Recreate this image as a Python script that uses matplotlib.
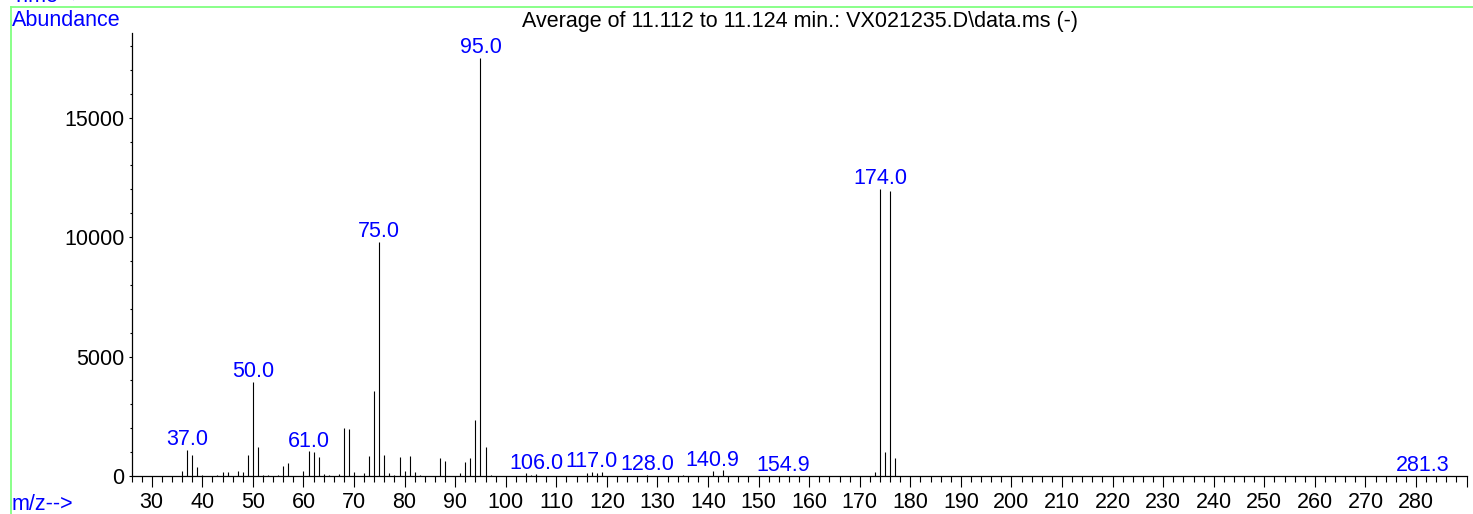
import matplotlib
matplotlib.use("Agg")
import matplotlib.pyplot as plt
from matplotlib.lines import Line2D
from matplotlib.ticker import MultipleLocator, FuncFormatter

plt.rcParams['font.family'] = ['Liberation Sans', 'DejaVu Sans']

# m/z values and abundances
mz = [36, 37, 38, 39, 40, 43, 44, 45, 47, 48, 49, 50, 51, 52, 53, 55, 56, 57,
      60, 61, 62, 63, 64, 65, 67, 68, 69, 70, 72, 73, 74, 75, 76, 77, 78, 79,
      80, 81, 82, 83, 87, 88, 91, 92, 93, 94, 95, 96, 97, 104, 105, 106, 116,
      117, 118, 119, 128, 135, 140.9, 143, 154.9, 173, 174, 175, 176, 177, 281.3]
abundance = [200, 1090, 880, 360, 30, 50, 170, 170, 200, 150, 865, 3930, 1200, 60, 40, 40, 420, 530,
             200, 1030, 1000, 790, 80, 30, 80, 2000, 1980, 170, 125, 835, 3540, 9780, 865, 125, 55, 790,
             225, 835, 170, 40, 740, 625, 110, 570, 750, 2340, 17510, 1225, 40, 140, 50, 80, 125,
             170, 110, 170, 30, 50, 225, 250, 20, 180, 12000, 1015, 11950, 740, 10]

labeled_mz = [37.0, 50.0, 61.0, 75.0, 95.0, 106.0, 117.0, 128.0, 140.9, 154.9, 174.0, 281.3]

title = "Average of 11.112 to 11.124 min.: VX021235.D\\data.ms (-)"

FS = 15.5
W, H = 1473, 514
fig = plt.figure(figsize=(W / 100, H / 100), dpi=100)
ax = fig.add_axes([131.5 / W, 38 / H, (1466.6 - 131.5) / W, (476 - 33.3) / H])

ax.vlines(mz, 0, abundance, colors='black', linewidth=0.8)

lookup = dict(zip(mz, abundance))
for m in labeled_mz:
    ax.annotate(f"{m:.1f}", xy=(m, lookup[m]), xytext=(0, 3.5), textcoords='offset points',
                ha='center', va='baseline', color='#0000ff', fontsize=FS)

ax.set_xlim(26, 290)
ax.set_ylim(0, 18530)

ax.xaxis.set_major_locator(MultipleLocator(10))
ax.xaxis.set_minor_locator(MultipleLocator(2))
ax.xaxis.set_major_formatter(FuncFormatter(lambda v, p: "" if v >= 289 else f"{v:.0f}"))
ax.yaxis.set_major_locator(MultipleLocator(5000))
ax.yaxis.set_minor_locator(MultipleLocator(1000))

ax.tick_params(axis='x', which='major', direction='out', length=8, width=0.8, pad=3.5, labelsize=FS)
ax.tick_params(axis='x', which='minor', direction='out', length=4.3, width=0.8)
ax.tick_params(axis='y', which='major', direction='out', length=2.2, width=0.8, pad=3, labelsize=FS)
ax.tick_params(axis='y', which='minor', direction='out', length=1.6, width=0.8)

for s in ['top', 'right']:
    ax.spines[s].set_visible(False)
for s in ['left', 'bottom']:
    ax.spines[s].set_linewidth(0.9)

# green frame
green = '#80ff80'
fig.add_artist(Line2D([10.5 / W, 1.0], [1 - 6.5 / H, 1 - 6.5 / H], color=green, linewidth=1.3,
                      transform=fig.transFigure))
fig.add_artist(Line2D([10.5 / W, 10.5 / W], [0, 1 - 6.5 / H], color=green, linewidth=1.3,
                      transform=fig.transFigure))

fig.text(12 / W, 1 - 2.5 / H, "Time-->", color='#0000ff', fontsize=FS, va='baseline', ha='left')
fig.text(12 / W, 1 - 26 / H, "Abundance", color='#0000ff', fontsize=FS, va='baseline', ha='left')
fig.text(12 / W, 1 - 510 / H, "m/z-->", color='#0000ff', fontsize=FS, va='baseline', ha='left')
fig.text(800 / W, 1 - 27 / H, title, color='black', fontsize=FS, va='baseline', ha='center')

fig.savefig("out.png", dpi=100)
